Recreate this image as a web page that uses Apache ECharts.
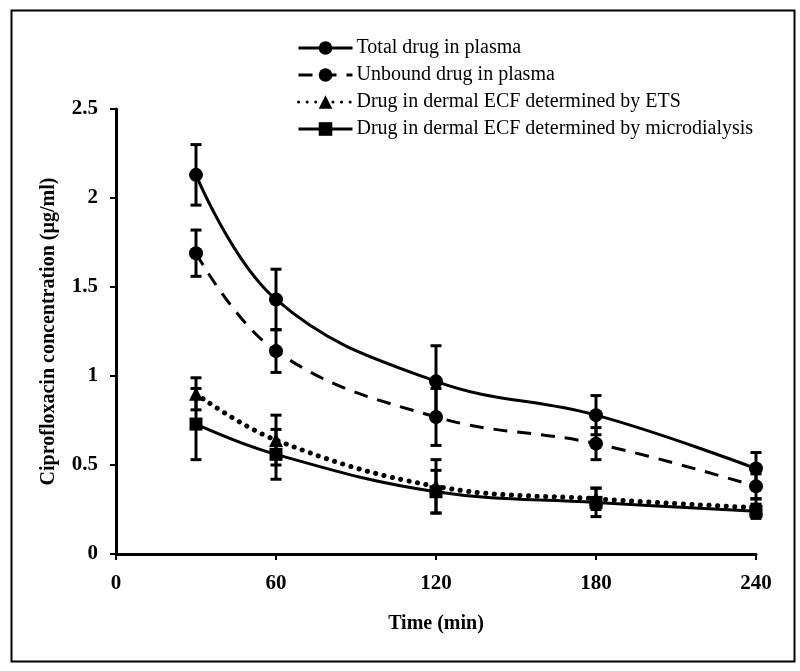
<!DOCTYPE html>
<html>
<head>
<meta charset="utf-8">
<script src="https://cdn.jsdelivr.net/npm/echarts@6/dist/echarts.min.js"></script>
<style>
html,body{margin:0;padding:0;background:#fff;}
#chart{width:800px;height:671px;}
</style>
</head>
<body>
<div id="chart"></div>
<script>
const times = [30, 60, 120, 180, 240];
const seriesNames = [
  'Total drug in plasma',
  'Unbound drug in plasma',
  'Drug in dermal ECF determined by ETS',
  'Drug in dermal ECF determined by microdialysis'
];
const totalDrug = [2.13, 1.43, 0.97, 0.78, 0.48];
const totalErr = [0.17, 0.17, 0.20, 0.11, 0.09];
const unboundDrug = [1.69, 1.14, 0.77, 0.62, 0.38];
const unboundErr = [0.13, 0.12, 0.16, 0.09, 0.07];
const etsDrug = [0.90, 0.64, 0.38, 0.31, 0.26];
const etsErr = [0.09, 0.14, 0.15, 0.06, 0.05];
const mdDrug = [0.73, 0.56, 0.35, 0.29, 0.24];
const mdErr = [0.20, 0.14, 0.12, 0.08, 0.04];
const xTicks = [0, 60, 120, 180, 240];
const yTicks = [0, 0.5, 1, 1.5, 2, 2.5];

const font = '"Liberation Serif", "Times New Roman", serif';
const chart = echarts.init(document.getElementById('chart'), null, {renderer: 'canvas'});

function pairs(vals) { return times.map((t, i) => [t, vals[i]]); }
function errData(vals, errs) { return times.map((t, i) => [t, vals[i] - errs[i], vals[i] + errs[i]]); }

function errorSeries(vals, errs) {
  return {
    type: 'custom',
    silent: true,
    z: 1,
    data: errData(vals, errs),
    renderItem: function (params, api) {
      const x = api.value(0);
      const lo = api.coord([x, api.value(1)]);
      const hi = api.coord([x, api.value(2)]);
      const hw = 5.5;
      const st = {stroke: '#000', lineWidth: 3};
      return {
        type: 'group',
        children: [
          {type: 'line', shape: {x1: lo[0], y1: lo[1], x2: hi[0], y2: hi[1]}, style: st},
          {type: 'line', shape: {x1: lo[0] - hw, y1: lo[1], x2: lo[0] + hw, y2: lo[1]}, style: st},
          {type: 'line', shape: {x1: hi[0] - hw, y1: hi[1], x2: hi[0] + hw, y2: hi[1]}, style: st}
        ]
      };
    }
  };
}

function lineSeries(name, vals, symbol, size, lineType) {
  const dotted = lineType === 'dotted';
  return {
    name: name,
    type: 'line',
    smooth: 0.4,
    data: pairs(vals),
    symbol: symbol,
    symbolSize: size,
    z: 3,
    itemStyle: {color: '#000'},
    lineStyle: {color: '#000', width: dotted ? 5 : 3,
      type: lineType === 'dashed' ? [14, 10] : (dotted ? [0.1, 8.5] : 'solid'),
      cap: dotted ? 'round' : 'butt'}
  };
}

const option = {
  backgroundColor: '#fff',
  animation: false,
  graphic: [{
    type: 'rect', left: 9, top: 8, shape: {width: 783, height: 651},
    style: {fill: 'none', stroke: '#000', lineWidth: 2}
  }],
  grid: {left: 116, right: 44, top: 109, bottom: 117},
  legend: {
    data: seriesNames,
    orient: 'vertical',
    left: 297,
    top: 38,
    padding: 0,
    itemWidth: 54,
    itemHeight: 17,
    itemGap: 7,
    lineStyle: {width: 3},
    textStyle: {fontFamily: font, fontSize: 20, lineHeight: 17, color: '#000', padding: [0, 0, 0, -1]}
  },
  xAxis: {
    type: 'value',
    min: 0, max: 240, interval: 60,
    name: 'Time (min)',
    nameLocation: 'middle',
    nameGap: 60,
    nameTextStyle: {fontFamily: font, fontSize: 20, fontWeight: 'bold', color: '#000'},
    axisLine: {lineStyle: {color: '#000', width: 3}},
    axisTick: {show: true, length: 6, lineStyle: {color: '#000', width: 2}},
    axisLabel: {fontFamily: font, fontSize: 21, fontWeight: 'bold', color: '#000', margin: 19,
      formatter: v => xTicks.includes(v) ? String(v) : ''},
    splitLine: {show: false}
  },
  yAxis: {
    type: 'value',
    min: 0, max: 2.5, interval: 0.5,
    name: 'Ciprofloxacin concentration (µg/ml)',
    nameLocation: 'middle',
    nameGap: 57,
    nameTextStyle: {fontFamily: font, fontSize: 20, fontWeight: 'bold', color: '#000'},
    axisLine: {show: true, lineStyle: {color: '#000', width: 3}},
    axisTick: {show: true, length: 6, lineStyle: {color: '#000', width: 2}},
    axisLabel: {fontFamily: font, fontSize: 21, fontWeight: 'bold', color: '#000', margin: 18,
      formatter: v => yTicks.includes(v) ? String(v) : ''},
    splitLine: {show: false}
  },
  series: [
    errorSeries(totalDrug, totalErr),
    errorSeries(unboundDrug, unboundErr),
    errorSeries(etsDrug, etsErr),
    errorSeries(mdDrug, mdErr),
    lineSeries(seriesNames[0], totalDrug, 'circle', 14, 'solid'),
    lineSeries(seriesNames[1], unboundDrug, 'circle', 14, 'dashed'),
    lineSeries(seriesNames[2], etsDrug, 'triangle', 14, 'dotted'),
    lineSeries(seriesNames[3], mdDrug, 'rect', 13, 'solid')
  ]
};
chart.setOption(option);
</script>
</body>
</html>
